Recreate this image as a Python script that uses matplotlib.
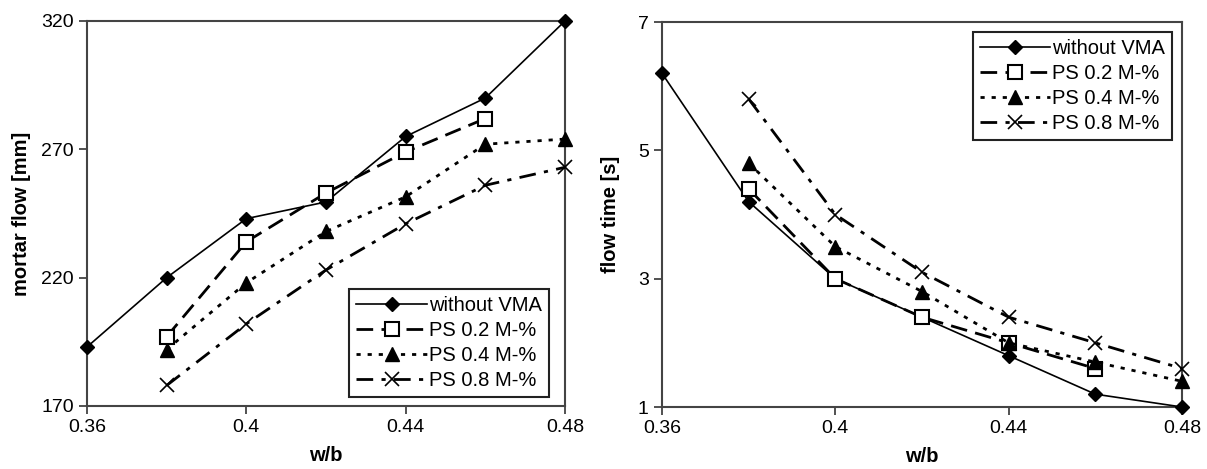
import numpy as np
import matplotlib.pyplot as plt

plt.rcParams['font.family'] = ['Liberation Sans', 'DejaVu Sans']

# w/b values
wb = [0.36, 0.38, 0.40, 0.42, 0.44, 0.46, 0.48]
wb_ps = [0.38, 0.40, 0.42, 0.44, 0.46, 0.48]
wb_ps02 = [0.38, 0.40, 0.42, 0.44, 0.46]

# mortar flow [mm]
flow_novma = [193, 220, 243, 249.5, 275, 290, 320]
flow_ps02 = [197, 234, 253, 269, 282]
flow_ps04 = [192, 218, 238, 251.5, 272, 274]
flow_ps08 = [178, 202, 223, 241, 256, 263]

# flow time [s]
time_novma = [6.2, 4.2, 3.0, 2.4, 1.8, 1.2, 1.0]
time_ps02 = [4.4, 3.0, 2.4, 2.0, 1.6]
time_ps04 = [4.8, 3.5, 2.8, 2.0, 1.7, 1.4]
time_ps08 = [5.8, 4.0, 3.1, 2.4, 2.0, 1.6]

labels = ['without VMA', 'PS 0.2 M-%', 'PS 0.4 M-%', 'PS 0.8 M-%']
xticks = [0.36, 0.40, 0.44, 0.48]
xticklabels = ['0.36', '0.4', '0.44', '0.48']

fig = plt.figure(figsize=(12.07, 4.69), dpi=100)
ax1 = fig.add_axes([87 / 1207, 1 - 406 / 469, 478 / 1207, 385 / 469])
ax2 = fig.add_axes([662 / 1207, 1 - 407 / 469, 520 / 1207, 385 / 469])


def draw(ax, y0, y1, y2, y3):
    ax.plot(wb, y0, color='black', lw=1.2, marker='D', ms=7.5, mfc='black',
            label=labels[0], clip_on=False, zorder=3)
    ax.plot(wb_ps02, y1, color='black', lw=2, ls=(0, (6, 3)), marker='s', ms=9.5,
            mfc='white', mew=1.5, label=labels[1], clip_on=False, zorder=4)
    ax.plot(wb_ps, y2, color='black', lw=2, ls=(0, (1.5, 2.5)), marker='^', ms=9.5,
            mfc='black', label=labels[2], clip_on=False, zorder=4)
    ax.plot(wb_ps, y3, color='black', lw=2, ls=(0, (6, 3, 1.5, 3)), marker='x', ms=10,
            mew=1.2, label=labels[3], clip_on=False, zorder=4)
    ax.set_xlim(0.36, 0.48)
    ax.set_xticks(xticks)
    ax.set_xticklabels(xticklabels)
    ax.tick_params(direction='out', length=6, width=1.2, labelsize=14, color='#333333')
    for s in ax.spines.values():
        s.set_linewidth(1.5)
        s.set_color('#444444')
    ax.set_xlabel('w/b', fontsize=14.5, fontweight='bold', labelpad=7)


draw(ax1, flow_novma, flow_ps02, flow_ps04, flow_ps08)
ax1.set_ylim(170, 320)
ax1.set_yticks([170, 220, 270, 320])
ax1.set_ylabel('mortar flow [mm]', fontsize=14.5, fontweight='bold', labelpad=7)
leg1 = ax1.legend(loc='lower right', bbox_to_anchor=(0.966, 0.023), borderaxespad=0,
                  fontsize=14.5, handlelength=3.5, numpoints=1, fancybox=False,
                  edgecolor='#222222', labelspacing=0.3, handletextpad=0.1,
                  borderpad=0.35, framealpha=1)
leg1.get_frame().set_linewidth(1.5)
leg1.set_zorder(10)

draw(ax2, time_novma, time_ps02, time_ps04, time_ps08)
ax2.set_ylim(1, 7)
ax2.set_yticks([1, 3, 5, 7])
ax2.set_ylabel('flow time [s]', fontsize=14.5, fontweight='bold', labelpad=13)
leg2 = ax2.legend(loc='upper right', bbox_to_anchor=(0.981, 0.974), borderaxespad=0,
                  fontsize=14.5, handlelength=3.5, numpoints=1, fancybox=False,
                  edgecolor='#222222', labelspacing=0.3, handletextpad=0.1,
                  borderpad=0.35, framealpha=1)
leg2.get_frame().set_linewidth(1.5)
leg2.set_zorder(10)

fig.savefig('out.png', dpi=100)
